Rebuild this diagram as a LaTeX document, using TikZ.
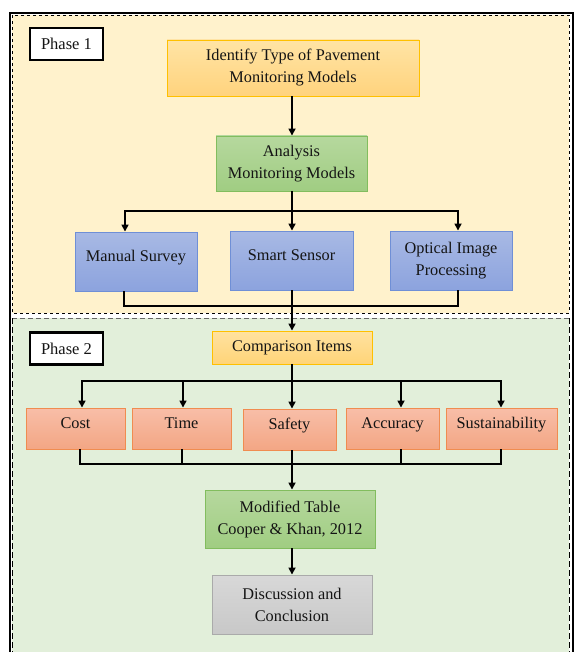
\documentclass[tikz,border=0pt]{standalone}
\usepackage{fontspec}
\setmainfont{Liberation Serif}
\usetikzlibrary{arrows.meta,calc}
\definecolor{ph1}{HTML}{FFF2CC}
\definecolor{ph2}{HTML}{E2EFDA}
\begin{document}
\begin{tikzpicture}[x=1pt,y=-1pt,
  every node/.style={font=\fontsize{16.3}{22}\selectfont, text=black!92, align=center, inner sep=0pt},
  box/.style={rectangle, line width=0.9pt},
  raised/.style={text height=11pt, text depth=11pt},
  gold/.style={box, draw={rgb,255:red,255;green,192;blue,0}, top color={rgb,255:red,255;green,228;blue,165}, bottom color={rgb,255:red,255;green,211;blue,125}},
  goldb/.style={box, draw={rgb,255:red,255;green,192;blue,0}, top color={rgb,255:red,255;green,226;blue,160}, bottom color={rgb,255:red,255;green,212;blue,120}},
  grn/.style={box, draw={rgb,255:red,130;green,189;blue,94}, top color={rgb,255:red,182;green,216;blue,158}, bottom color={rgb,255:red,160;green,205;blue,130}},
  blu/.style={box, draw={rgb,255:red,111;green,143;blue,214}, top color={rgb,255:red,168;green,185;blue,228}, bottom color={rgb,255:red,140;green,163;blue,222}},
  org/.style={box, raised, draw={rgb,255:red,240;green,140;blue,80}, top color={rgb,255:red,248;green,190;blue,168}, bottom color={rgb,255:red,243;green,166;blue,132}},
  gry/.style={box, draw={rgb,255:red,170;green,170;blue,170}, top color={rgb,255:red,216;green,216;blue,216}, bottom color={rgb,255:red,200;green,200;blue,200}},
  phase/.style={rectangle, draw=black, line width=2.8pt, fill=white, minimum width=73pt, minimum height=32pt, font=\fontsize{16.5}{18}\selectfont},
  conn/.style={line width=1.6pt, black},
  arr/.style={conn, -{Triangle[width=7pt,length=7pt]}}
]
\useasboundingbox (0,0) rectangle (574,652);
% backgrounds
\fill[ph1] (12,15) rectangle (569,313);
\draw[dashed, line width=0.8pt] (12,15) rectangle (569,313);
\fill[ph2] (12,318) rectangle (569,660);
\draw[dash pattern=on 5pt off 3pt, line width=1pt, black!60] (12,318) -- (569,318);
\draw[dash pattern=on 6pt off 3pt, line width=0.8pt] (12,318) -- (12,660) (569,318) -- (569,660);
% outer border
\draw[line width=2pt] (10,660) -- (10,13) -- (573,13) -- (573,660);

% phase labels
\node[phase] (p1) at (66.5,44) {Phase 1};
\node[phase] (p2) at (66.5,348.5) {Phase 2};

% nodes
\node[gold, minimum width=252pt, minimum height=56pt] (id) at (293,68) {Identify Type of Pavement\\Monitoring Models};
\node[grn, minimum width=151pt, minimum height=55pt] (an) at (291.5,163.5) {Analysis\\Monitoring Models};
\node[blu, raised, minimum width=122pt, minimum height=59pt] (ms) at (136,261.5) {Manual Survey};
\node[blu, raised, minimum width=123pt, minimum height=59pt] (ss) at (291.5,260.5) {Smart Sensor};
\node[blu, minimum width=122pt, minimum height=59pt] (op) at (451,260.5) {Optical Image\\Processing};
\node[goldb, minimum width=160pt, minimum height=33pt] (ci) at (292,347.5) {Comparison Items};
\node[org, minimum width=99pt, minimum height=41pt] (co) at (75.5,428.5) {Cost};
\node[org, minimum width=99pt, minimum height=41pt] (ti) at (181.5,428.5) {Time};
\node[org, minimum width=93pt, minimum height=41pt] (sa) at (289.5,429.5) {Safety};
\node[org, minimum width=93pt, minimum height=41pt] (ac) at (392.5,428.5) {Accuracy};
\node[org, minimum width=111pt, minimum height=41pt] (su) at (501.5,428.5) {Sustainability};
\node[grn, minimum width=170pt, minimum height=58pt] (mt) at (290,519) {Modified Table\\Cooper \& Khan, 2012};
\node[gry, minimum width=160pt, minimum height=59pt] (dc) at (292,604.5) {Discussion and\\Conclusion};

% connectors phase 1
\coordinate (b1) at (292,211);
\coordinate (m1) at (292,306);
\draw[arr] (id.south -| b1) -- (an.north -| b1);
\draw[conn] (an.south -| b1) -- (b1);
\draw[arr] (b1) -| ([xshift=-11pt]ms.north);
\draw[arr] (b1) -| ([xshift=7pt]op.north);
\draw[arr] (b1) -- (ss.north -| b1);
\draw[conn] ([xshift=-12pt]ms.south) |- (m1) -| ([xshift=7pt]op.south);
\draw[arr] (ss.south -| b1) -- (ci.north -| b1);

% connectors phase 2
\coordinate (b2) at (292,381);
\coordinate (m2) at (292,464);
\draw[conn] (ci.south -| b2) -- (b2);
\draw[arr] (b2) -| ([xshift=6.5pt]co.north);
\draw[arr] (b2) -| ([xshift=1.5pt]ti.north);
\draw[arr] (b2) -- (sa.north -| b2);
\draw[arr] (b2) -| ([xshift=8.5pt]ac.north);
\draw[arr] (b2) -| ([xshift=-0.5pt]su.north);
\draw[conn] ([xshift=4.5pt]co.south) |- (m2) -| ([xshift=-0.5pt]su.south);
\draw[conn] ([xshift=0.5pt]ti.south) -- ([xshift=0.5pt]ti.south |- m2);
\draw[conn] ([xshift=8.5pt]ac.south) -- ([xshift=8.5pt]ac.south |- m2);
\draw[arr] (sa.south -| b2) -- (mt.north -| b2);
\draw[arr] (mt.south -| b2) -- (dc.north -| b2);
\end{tikzpicture}
\end{document}
